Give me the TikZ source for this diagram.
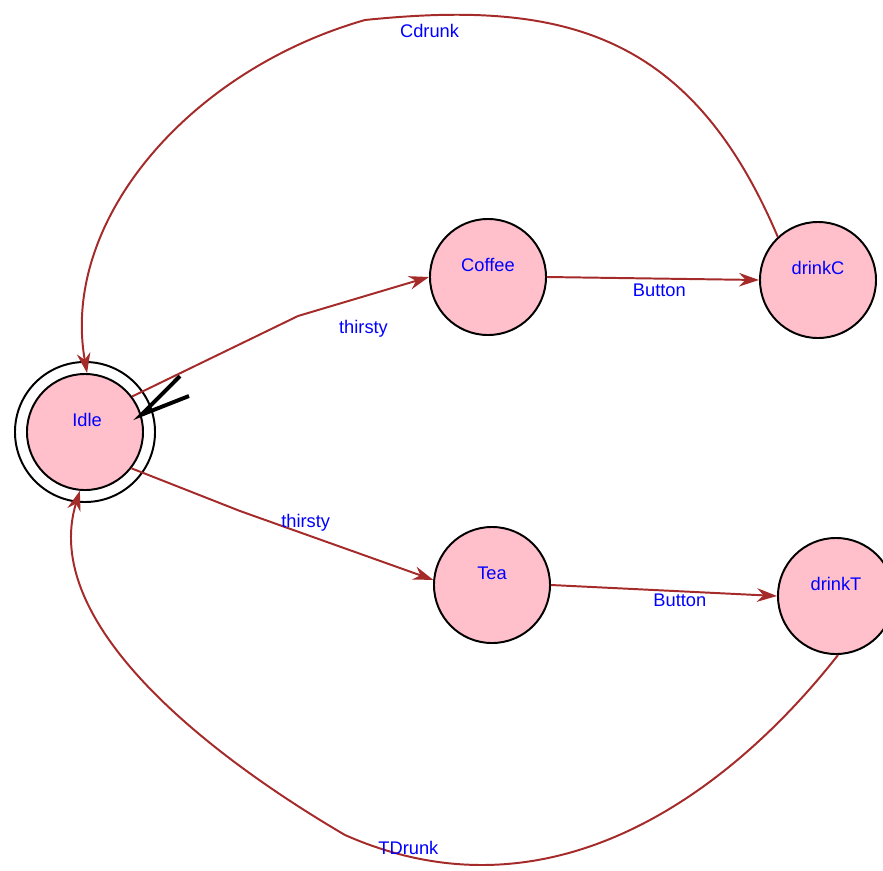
\documentclass[tikz,border=0pt]{standalone}
\usepackage{fontspec}
\setmainfont{Liberation Sans}
\usetikzlibrary{arrows.meta}
\definecolor{statefill}{HTML}{FFC0CB}
\definecolor{edgebrown}{HTML}{A52A2A}

\begin{document}
\begin{tikzpicture}[x=0.025cm, y=-0.025cm,
    state/.style={circle, draw, line width=1.4pt, fill=statefill, minimum size=2.9cm, inner sep=0pt},
    statename/.style={text=blue, font=\fontsize{13}{15}\selectfont, yshift=0.3cm},
    trans/.style={-{Stealth[length=5mm, width=3.4mm]}, line width=1.4pt, color=edgebrown},
    lbl/.style={text=blue, font=\fontsize{13}{15}\selectfont}]
    \useasboundingbox (0,0) rectangle (883,870);
    % states
    \node (idle) at (85,432) [state, label={[statename, xshift=0.05cm]center:Idle}] {};
    \draw[line width=1.4pt] (idle.center) circle[radius=1.75cm];
    \node (coffee) at (488,277) [state, label={[statename]center:Coffee}] {};
    \node (drinkC) at (818,280) [state, label={[statename]center:drinkC}] {};
    \node (tea) at (492,585) [state, label={[statename]center:Tea}] {};
    \node (drinkT) at (836,596) [state, label={[statename]center:drinkT}] {};
    % start marker
    \coordinate (in1) at (180,376);
    \coordinate (in2) at (189,396);
    \draw[line width=2.8pt] (in1) -- (idle.17) -- (in2);
    % transitions
    \draw[trans] (idle.37) -- (298,316) -- (coffee.west) node[pos=0.5, shift={(0,32)}, lbl] {thirsty};
    \draw[trans] (idle.-38) -- (240,511) -- (tea.175) node[pos=0.34, shift={(0,-12)}, lbl] {thirsty};
    \draw[trans] (coffee.east) -- (drinkC.west) node[pos=0.53, shift={(0,12)}, lbl] {Button};
    \draw[trans] (tea.east) -- (drinkT.west) node[pos=0.57, shift={(0,9)}, lbl] {Button};
    \draw[trans] (drinkC.133) .. controls (690,30) and (560,0) .. (365,20)
        node[pos=0.9, shift={(8,15)}, lbl] {Cdrunk}
        .. controls (190,70) and (60,220) .. (idle.88);
    \draw[trans] (drinkT.-88) .. controls (740,780) and (560,930) .. (345,835)
        node[pos=0.9, shift={(0,-8)}, lbl] {TDrunk}
        .. controls (200,750) and (40,620) .. (idle.-95);
\end{tikzpicture}
\end{document}
